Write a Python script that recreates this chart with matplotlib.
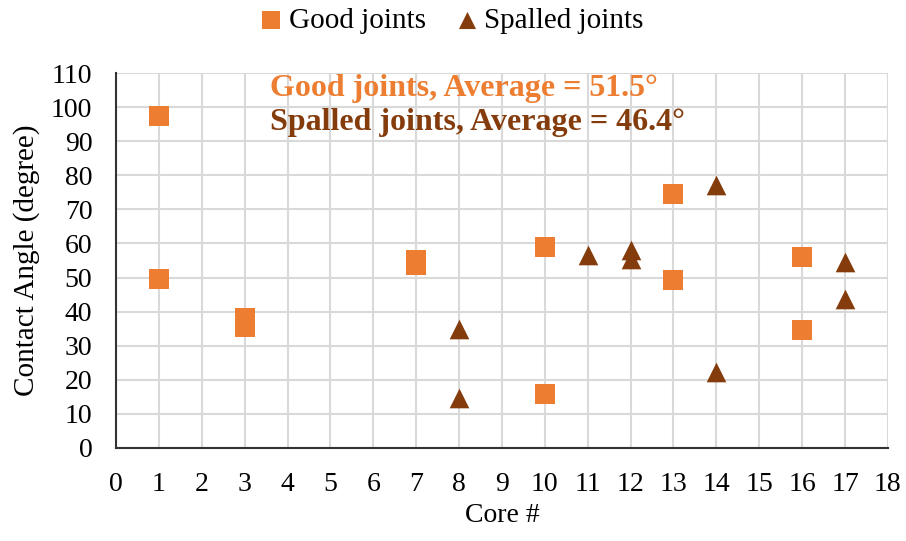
import matplotlib.pyplot as plt

plt.rcParams['font.family'] = ['Liberation Serif', 'DejaVu Serif']

# contact angle per core, degrees
good_core = [1, 1, 3, 3, 7, 7, 10, 10, 13, 13, 16, 16]
good_angle = [97.4, 49.5, 38.2, 35.4, 55.0, 53.7, 58.9, 15.7, 74.5, 49.3, 56.0, 34.7]
spalled_core = [8, 8, 11, 12, 12, 14, 14, 17, 17]
spalled_angle = [34.8, 14.8, 56.7, 58.2, 55.5, 77.2, 22.2, 54.7, 43.8]

good_label = 'Good joints, Average = 51.5°'
spalled_label = 'Spalled joints, Average = 46.4°'

orange = '#ED7D31'
brown = '#843C0C'

fig = plt.figure(figsize=(9.06, 5.41), dpi=100)
ax = fig.add_axes([0.128, 0.172, 0.852, 0.693])

ax.scatter(good_core, good_angle, marker='s', s=200, color=orange,
           label='Good joints', zorder=3, linewidths=0)
ax.scatter(spalled_core, spalled_angle, marker='^', s=200, color=brown,
           label='Spalled joints', zorder=3, linewidths=0)

ax.set_xlim(0, 18)
ax.set_ylim(0, 110)
ax.set_xticks(range(0, 19))
ax.set_yticks(range(0, 111, 10))
ax.grid(True, color='#d9d9d9', linewidth=1.5, zorder=0)
ax.set_axisbelow(True)
ax.tick_params(length=0, labelsize=20)
ax.tick_params(axis='y', pad=17)
ax.tick_params(axis='x', pad=17)

for side in ['top', 'right']:
    ax.spines[side].set_visible(False)
for side in ['left', 'bottom']:
    ax.spines[side].set_color('#333333')
    ax.spines[side].set_linewidth(1.5)

ax.set_xlabel('Core #', fontsize=20)
ax.set_ylabel('Contact Angle (degree)', fontsize=21)
ax.xaxis.set_label_coords(0.5, -0.147)
ax.yaxis.set_label_coords(-0.098, 0.5)

ax.text(3.59, 105.5, good_label, color=orange, fontsize=23,
        fontweight='bold', va='center')
ax.text(3.59, 95.5, spalled_label, color=brown, fontsize=23,
        fontweight='bold', va='center')

fig.legend(loc='upper center', bbox_to_anchor=(0.5, 1.035), ncol=2,
           frameon=False, fontsize=21, handlelength=0.6, handletextpad=0.3,
           columnspacing=1.1, markerscale=0.87)

fig.savefig('out.png', dpi=100)
